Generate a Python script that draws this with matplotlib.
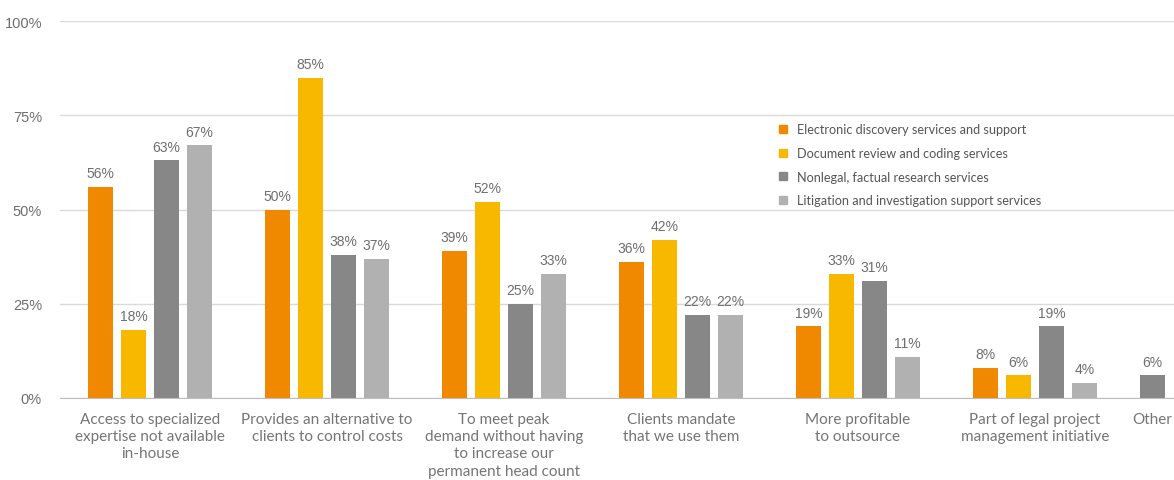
import matplotlib
matplotlib.use("Agg")
import matplotlib.pyplot as plt
from matplotlib.lines import Line2D
import numpy as np

categories = [
    "Access to specialized\nexpertise not available\nin-house",
    "Provides an alternative to\nclients to control costs",
    "To meet peak\ndemand without having\nto increase our\npermanent head count",
    "Clients mandate\nthat we use them",
    "More profitable\nto outsource",
    "Part of legal project\nmanagement initiative",
]
series_names = [
    "Electronic discovery services and support",
    "Document review and coding services",
    "Nonlegal, factual research services",
    "Litigation and investigation support services",
]
values = [
    [56, 50, 39, 36, 19, 8],
    [18, 85, 52, 42, 33, 6],
    [63, 38, 25, 22, 31, 19],
    [67, 37, 33, 22, 11, 4],
]
other_label = "Other"
other_value = 6          # only "Nonlegal, factual research services"
other_series = 2
yticks = [0, 25, 50, 75, 100]
ytick_labels = ["0%", "25%", "50%", "75%", "100%"]

colors = ["#F08800", "#F9B800", "#878787", "#B1B1B1"]
txt = "#6E6E6E"

W, H = 1174, 481
fig = plt.figure(figsize=(W / 100, H / 100), dpi=100)
ax = fig.add_axes([60 / W, (H - 399) / H, (W - 60) / W, 377 / H])

x = np.arange(len(categories))
pitch = 33 / 177
width = 25 / 177
for i, (vals, col) in enumerate(zip(values, colors)):
    pos = x + (i - 1.5) * pitch
    bars = ax.bar(pos, vals, width=width, color=col, zorder=3)
    for b, v in zip(bars, vals):
        ax.text(b.get_x() + b.get_width() / 2, v + 1.8, f"{v}%", ha="center", va="bottom",
                fontsize=10, color=txt, family="Liberation Sans")

other_pos = len(categories) - 1 + 117 / 177
ob = ax.bar([other_pos], [other_value], width=width, color=colors[other_series], zorder=3)
ax.text(other_pos, other_value + 1.8, f"{other_value}%", ha="center", va="bottom",
        fontsize=10, color=txt, family="Liberation Sans")

ax.set_xlim(-90 / 177, (W - 60 - 90) / 177)
ax.set_ylim(0, 100)
ax.set_yticks(yticks)
ax.set_yticklabels(ytick_labels, fontsize=10.5, color=txt, family="Liberation Sans")
ax.set_xticks(list(x) + [other_pos])
ax.set_xticklabels(categories + [other_label], fontsize=11, color="#757575",
                   family=["Lato", "DejaVu Sans"], linespacing=1.3)
ax.tick_params(axis="both", length=0)
ax.tick_params(axis="y", pad=13)
ax.tick_params(axis="x", pad=10)
ax.grid(axis="y", color="#DADADA", linewidth=1, zorder=0)
for s in ["top", "right", "left"]:
    ax.spines[s].set_visible(False)
ax.spines["bottom"].set_color("#BDBDBD")
ax.spines["bottom"].set_zorder(4)

handles = [Line2D([], [], marker="s", linestyle="none", markersize=6, color=c) for c in colors]
leg = ax.legend(handles, series_names, loc="upper left",
                bbox_to_anchor=((767 - 60) / (W - 60), (399 - 113) / 377),
                frameon=False, handlelength=0.8, handletextpad=0.65, labelspacing=0.92,
                prop={"family": ["Lato", "DejaVu Sans"], "size": 9.1})
for t in leg.get_texts():
    t.set_color("#555555")

fig.savefig("out.png", dpi=100)
